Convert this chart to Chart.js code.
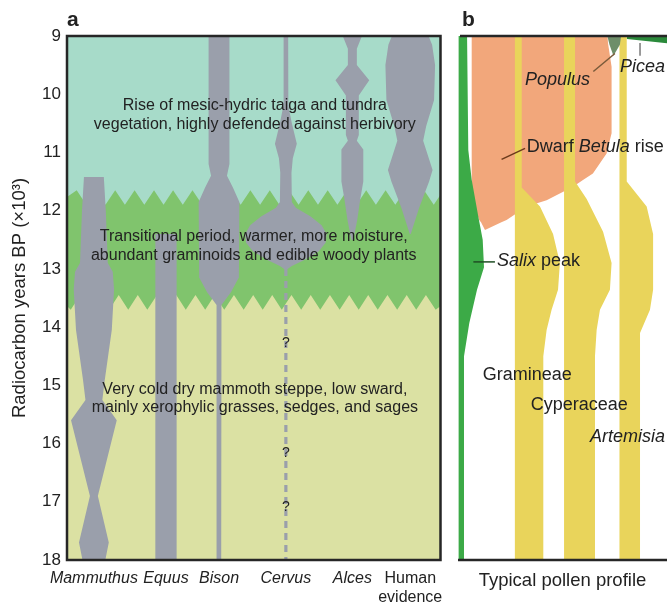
<!DOCTYPE html>
<html><head><meta charset="utf-8">
<script src="https://cdn.jsdelivr.net/npm/chart.js@4.4.0/dist/chart.umd.min.js"></script>
<style>
html,body{margin:0;padding:0;background:#fff;width:667px;height:603px;overflow:hidden}
#ca{position:absolute;left:0;top:0}
#cb{position:absolute;left:452px;top:0}
</style></head><body>
<canvas id="ca" width="452" height="603"></canvas>
<canvas id="cb" width="215" height="603"></canvas>
<script>
// ---------------- DATA (panel a) ----------------
const taxa = ['Mammuthus','Equus','Bison','Cervus','Alces','Human evidence'];
const taxonLabels = [['Mammuthus'],['Equus'],['Bison'],['Cervus'],['Alces'],['Human','evidence']];
const yTickValues = [9,10,11,12,13,14,15,16,17,18];

// radiocarbon ages (x10^3 yr BP) and half-widths (relative abundance)
const mammuthusT = [11.42,12.0,12.9,13.05,13.35,14.05,14.9,15.25,15.6,16.9,17.7,18.0];
const mammuthusW = [2.66,3.19,3.72,5.05,5.4,4.79,2.93,2.26,6.12,1.06,3.99,3.06];
const equusT = [12.4,18.0];
const equusW = [2.85,2.85];
const bisonT = [8.9,11.2,11.4,11.6,11.85,13.15,13.4,13.62,18.0];
const bisonW = [2.79,2.79,2.13,3.72,5.45,5.32,3.19,0.66,0.59];
const cervusT = [8.9,10.2,10.5,10.85,11.1,11.35,11.85,11.95,12.1,12.25,12.4,12.55,12.7,12.85,12.95,13.0];
const cervusW = [0.61,0.66,1.6,2.93,1.86,1.5,1.6,2.66,6.65,9.57,10.9,10.64,8.78,4.79,1.6,0.45];
const cervusUncertainT = [13.0,18.0];
const alcesT = [8.9,9.22,9.5,9.76,10.02,10.7,10.8,10.95,11.5,11.8,12.15,12.5];
const alcesW = [3.19,1.2,1.2,4.52,1.73,1.73,1.2,2.93,2.93,2.13,1.33,0.27];
const humanT = [8.95,9.15,9.5,10.1,10.55,10.8,11.3,11.5,11.95,12.4];
const humanW = [4.6,5.85,6.65,6.38,4.26,3.46,5.98,5.05,2.39,0.13];
const uncertainAges = [14.27,16.16,17.1];

// vegetation zone boundaries (zig-zag tooth tips)
const upperToothX = [2.6,7.7,12.9,18.1,23.3,28.4,33.6,38.8,43.9,49.1,54.3,59.4,64.6,69.8,75.0,80.1,85.3,90.5,95.6,100.8];
const upperTooth = {tip:11.65, notch:11.9};
const lowerToothX = [1.0,6.1,11.3,16.4,21.5,26.7,31.8,37.0,42.1,47.3,52.4,57.5,62.7,67.8,73.0,78.1,83.2,88.4,93.5,98.7];
const lowerTooth = {tip:13.7, notch:13.45};

// ---------------- DATA (panel b, pollen %) ----------------
const salixT = [8.9,10.96,11.47,12.1,12.5,12.97,13.36,13.93,14.5,18.1];
const salixR = [3.64,4.26,5.9,9.08,11.2,11.83,8.46,4.75,2.19,2.19];
const betulaT = [8.9,9.13,9.53,10.67,11.02,11.36,11.47,11.59,11.82,11.93,12.16,12.2,12.33];
const betulaL = [5.9,5.9,5.9,5.9,5.9,5.9,5.9,6.1,6.7,7.2,9.5,10.4,12.3];
const betulaR = [71.1,71.6,73.3,73.3,70.9,64.3,59.7,54.7,42.0,32.4,22.7,20.2,12.3];
const gramT = [8.9,11.6,11.93,12.4,12.9,13.36,13.7,14.05,14.5,18.1];
const gramL = [26.7,26.7,26.7,26.7,26.7,26.7,26.7,26.7,26.7,26.7];
const gramR = [30.0,30.0,38.8,45.1,48.4,47.5,44.4,42.0,40.4,40.4];
const cypT = [8.9,11.5,11.8,12.36,12.9,13.36,13.7,14.05,14.5,18.1];
const cypL = [50.4,50.4,50.4,50.4,50.4,50.4,50.4,50.4,50.4,50.4];
const cypR = [55.7,55.7,61.3,69.2,73.3,72.5,67.7,66.1,65.3,65.3];
const artT = [8.9,11.5,11.93,12.4,13.36,13.7,14.1,18.1];
const artL = [77.1,77.1,77.1,77.1,77.1,77.1,77.1,77.1];
const artR = [80.6,80.6,90.2,93.3,93.3,91.8,87.0,87.0];
const populusT = [8.95,9.15,9.34];
const populusL = [70.9,72.3,74.2];
const populusR = [78.1,77.3,74.2];
const piceaX = [80.7,101];
const piceaBase = [9.05,9.13];

// ---------------- layout / style ----------------
const F = '"Liberation Sans", Arial, Helvetica, sans-serif';
Chart.defaults.font.family = F;
Chart.defaults.color = '#222';
const taxonCenters = [7.2,26.5,40.7,58.6,76.4,91.9];
const C = {teal:'#a7dbc9', green:'#80c46d', khaki:'#dbe1a3', grey:'#9a9fab',
  salix:'#3caa47', betula:'#f2a77b', yellow:'#e9d45b', populus:'#6e8e69', picea:'#2b8a3b', ink:'#222'};

function spindle(c, times, hw) {
  const p = times.map((t,i)=>({x:c+hw[i], y:t}));
  for (let i=times.length-1;i>=0;i--) p.push({x:c-hw[i], y:times[i]});
  return p;
}
function band(times, left, right) {
  const p = times.map((t,i)=>({x:right[i], y:t}));
  for (let i=times.length-1;i>=0;i--) p.push({x:left[i], y:times[i]});
  return p;
}
function zig(xs, lv) {
  const p = [{x:-3, y:lv.notch}];
  xs.forEach((x,i)=>{
    if (i>0) p.push({x:(xs[i-1]+x)/2, y:lv.notch});
    p.push({x, y:lv.tip});
  });
  p.push({x:104, y:lv.notch});
  return p;
}
function poly(data, color, order) {
  return {type:'line', data, fill:'shape', backgroundColor:color, borderWidth:0,
          pointRadius:0, tension:0, order};
}
function seg(data, color, width, dash, order) {
  return {type:'line', data, fill:false, borderColor:color, borderWidth:width,
          borderDash:dash||[], pointRadius:0, tension:0, order};
}

// ---------------- panel a ----------------
const tealZone = [{x:-3,y:8.8},{x:104,y:8.8}].concat(zig(upperToothX, upperTooth).reverse());
const greenZone = [{x:-3,y:8.8},{x:104,y:8.8}].concat(zig(lowerToothX, lowerTooth).reverse());
const khakiZone = [{x:-3,y:8.8},{x:104,y:8.8},{x:104,y:18.2},{x:-3,y:18.2}];

const dsA = [
  poly(khakiZone, C.khaki, 9),
  poly(greenZone, C.green, 8),
  poly(tealZone, C.teal, 7),
  poly(spindle(taxonCenters[0], mammuthusT, mammuthusW), C.grey, 2),
  poly(spindle(taxonCenters[1], equusT, equusW), C.grey, 2),
  poly(spindle(taxonCenters[2], bisonT, bisonW), C.grey, 2),
  poly(spindle(taxonCenters[3], cervusT, cervusW), C.grey, 2),
  seg(cervusUncertainT.map(t=>({x:taxonCenters[3], y:t})), C.grey, 3.2, [7,5], 2),
  poly(spindle(taxonCenters[4], alcesT, alcesW), C.grey, 2),
  poly(spindle(taxonCenters[5], humanT, humanW), C.grey, 2),
];

const notesA = [
  {lines:['Rise of mesic-hydric taiga and tundra','vegetation, highly defended against herbivory'], x:50.3, t:[10.2,10.53]},
  {lines:['Transitional period, warmer, more moisture,','abundant graminoids and edible woody plants'], x:50.0, t:[12.45,12.78]},
  {lines:['Very cold dry mammoth steppe, low sward,','mainly xerophylic grasses, sedges, and sages'], x:50.3, t:[15.07,15.39]},
];

const pluginA = {
  id:'decorA',
  afterDatasetsDraw(chart) {
    const {ctx, chartArea:a, scales:{x,y}} = chart;
    ctx.save();
    ctx.fillStyle = C.ink; ctx.textAlign = 'center'; ctx.textBaseline = 'middle';
    ctx.font = '16px ' + F;
    notesA.forEach(n => n.lines.forEach((s,i)=> ctx.fillText(s, x.getPixelForValue(n.x), y.getPixelForValue(n.t[i]))));
    ctx.font = '14px ' + F;
    uncertainAges.forEach(t => ctx.fillText('?', x.getPixelForValue(taxonCenters[3]), y.getPixelForValue(t)));
    ctx.strokeStyle = '#262626'; ctx.lineWidth = 2.5;
    ctx.strokeRect(a.left, a.top, a.right-a.left, a.bottom-a.top);
    ctx.font = 'bold 21px ' + F; ctx.textAlign = 'left';
    ctx.fillText('a', a.left, 20);
    ctx.restore();
  }
};

new Chart(document.getElementById('ca'), {
  type:'line',
  data:{datasets:dsA},
  options:{
    responsive:false, animation:false, events:[],
    layout:{padding:{left:0,right:9,top:36,bottom:0}},
    plugins:{legend:{display:false}, tooltip:{enabled:false}},
    scales:{
      x:{type:'linear', min:0, max:100,
        grid:{display:false, drawTicks:false}, border:{display:false},
        afterBuildTicks:s=>{ s.ticks = taxonCenters.map(v=>({value:v})); },
        afterFit:s=>{ s.height = 43; },
        ticks:{autoSkip:false, maxRotation:0, minRotation:0, padding:9, color:C.ink,
          font:c=>({size:16, family:F, style:(c.index<5?'italic':'normal')}),
          callback:(v,i)=>taxonLabels[i]}},
      y:{type:'linear', min:9, max:18, reverse:true,
        grid:{display:false, drawTicks:false}, border:{display:false},
        afterBuildTicks:s=>{ s.ticks = yTickValues.map(v=>({value:v})); },
        afterFit:s=>{ s.width = 67; },
        ticks:{padding:6, font:{size:17}, color:C.ink},
        title:{display:true, text:'Radiocarbon years BP (×10³)', font:{size:18.5}, color:C.ink, padding:{top:9,bottom:0}}}
    }
  },
  plugins:[pluginA]
});

// ---------------- panel b ----------------
const dsB = [
  poly(band(betulaT, betulaL, betulaR), C.betula, 9),
  poly(band(salixT, salixT.map(()=>-0.4), salixR), C.salix, 8),
  poly(band(gramT, gramL, gramR), C.yellow, 7),
  poly(band(cypT, cypL, cypR), C.yellow, 7),
  poly(band(artT, artL, artR), C.yellow, 7),
  poly(band(populusT, populusL, populusR), C.populus, 6),
  poly([{x:piceaX[0],y:8.9},{x:piceaX[1],y:8.9},{x:piceaX[1],y:piceaBase[1]},{x:piceaX[0],y:piceaBase[0]}], C.picea, 6),
  seg([{x:64.5,y:9.61},{x:74.9,y:9.3}], '#7a5a3a', 1.5, null, 1),
  seg([{x:31.6,y:10.93},{x:20.3,y:11.12}], '#6b3a1c', 1.5, null, 1),
  seg([{x:6.7,y:12.88},{x:17.1,y:12.88}], '#1f4f24', 1.5, null, 1),
  seg([{x:87,y:9.12},{x:87,y:9.34}], '#666', 1.3, null, 1),
];

const notesB = [
  {parts:[['Populus','italic']], x:31.6, t:9.76},
  {parts:[['Picea','italic']], x:77.4, t:9.53},
  {parts:[['Dwarf ','normal'],['Betula','italic'],[' rise','normal']], x:32.4, t:10.9},
  {parts:[['Salix','italic'],[' peak','normal']], x:18.1, t:12.87},
  {parts:[['Gramineae','normal']], x:11.2, t:14.82},
  {parts:[['Cyperaceae','normal']], x:34.3, t:15.34},
  {parts:[['Artemisia','italic']], x:62.9, t:15.89},
];

const pluginB = {
  id:'decorB',
  afterDatasetsDraw(chart) {
    const {ctx, chartArea:a, scales:{x,y}} = chart;
    ctx.save();
    ctx.fillStyle = C.ink; ctx.textAlign = 'left'; ctx.textBaseline = 'middle';
    notesB.forEach(n => {
      let px = x.getPixelForValue(n.x); const py = y.getPixelForValue(n.t);
      n.parts.forEach(([s,st]) => {
        ctx.font = (st==='italic'?'italic ':'') + '18px ' + F;
        ctx.fillText(s, px, py); px += ctx.measureText(s).width;
      });
    });
    ctx.strokeStyle = '#262626'; ctx.lineWidth = 2.5;
    ctx.beginPath();
    ctx.moveTo(a.left+2, a.top); ctx.lineTo(a.right, a.top);
    ctx.moveTo(a.left, a.bottom); ctx.lineTo(a.right, a.bottom);
    ctx.stroke();
    ctx.font = 'bold 21px ' + F;
    ctx.fillText('b', a.left+4, 20);
    ctx.restore();
  }
};

new Chart(document.getElementById('cb'), {
  type:'line',
  data:{datasets:dsB},
  options:{
    responsive:false, animation:false, events:[],
    layout:{padding:{left:6,right:0,top:36,bottom:0}},
    plugins:{legend:{display:false}, tooltip:{enabled:false}},
    scales:{
      x:{type:'linear', min:-0.7, max:100,
        grid:{display:false, drawTicks:false}, border:{display:false},
        ticks:{display:false},
        afterFit:s=>{ s.height = 43; },
        title:{display:true, text:'Typical pollen profile', font:{size:18.5}, color:C.ink, padding:{top:0,bottom:11}}},
      y:{type:'linear', min:9, max:18, reverse:true, display:false}
    }
  },
  plugins:[pluginB]
});
</script>
</body></html>
